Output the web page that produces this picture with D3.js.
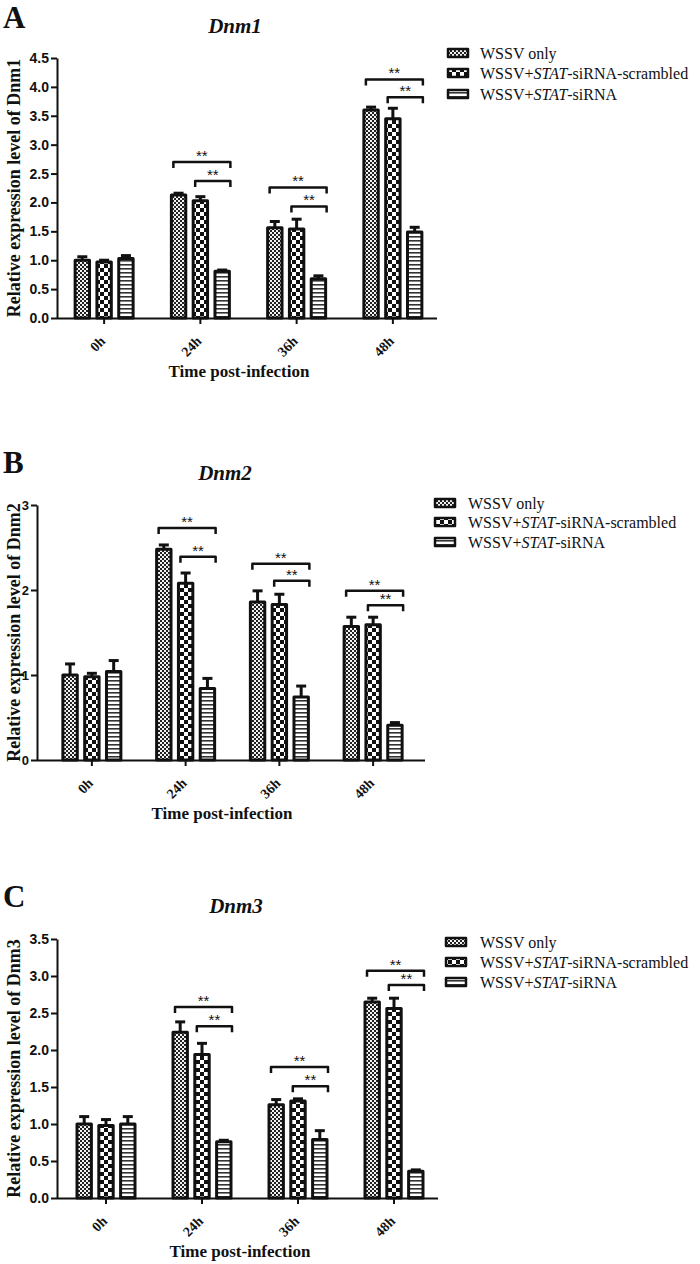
<!DOCTYPE html>
<html><head><meta charset="utf-8">
<script src="https://cdn.jsdelivr.net/npm/d3@7"></script>
<style>body{margin:0;background:#fff} svg{display:block}</style>
</head><body><svg id="c" width="700" height="1264"></svg>
<script>
// ---------- data ----------
const categories = ["0h", "24h", "36h", "48h"];
const seriesNames = ["WSSV only", "WSSV+STAT-siRNA-scrambled", "WSSV+STAT-siRNA"];

// Dnm1 (rows = time points, columns = series)
const dnm1Means = [[1.00, 0.97, 1.03], [2.13, 2.03, 0.81], [1.56, 1.54, 0.68], [3.60, 3.45, 1.49]];
const dnm1Errs  = [[0.06, 0.03, 0.05], [0.03, 0.07, 0.02], [0.11, 0.17, 0.05], [0.05, 0.18, 0.08]];
const dnm1BracketHigh = [null, 2.70, 2.26, 4.13];
const dnm1BracketLow  = [null, 2.37, 1.93, 3.82];
const dnm1Ticks = [0, 0.5, 1, 1.5, 2, 2.5, 3, 3.5, 4, 4.5];

// Dnm2
const dnm2Means = [[1.00, 0.98, 1.04], [2.48, 2.08, 0.84], [1.86, 1.83, 0.74], [1.57, 1.59, 0.41]];
const dnm2Errs  = [[0.13, 0.04, 0.13], [0.05, 0.12, 0.12], [0.13, 0.12, 0.13], [0.11, 0.09, 0.03]];
const dnm2BracketHigh = [null, 2.73, 2.31, 1.99];
const dnm2BracketLow  = [null, 2.39, 2.11, 1.82];
const dnm2Ticks = [0, 1, 2, 3];

// Dnm3
const dnm3Means = [[1.00, 0.98, 1.00], [2.24, 1.94, 0.76], [1.26, 1.31, 0.79], [2.65, 2.56, 0.36]];
const dnm3Errs  = [[0.10, 0.08, 0.10], [0.14, 0.15, 0.02], [0.07, 0.03, 0.12], [0.05, 0.14, 0.02]];
const dnm3BracketHigh = [null, 2.58, 1.77, 3.07];
const dnm3BracketLow  = [null, 2.32, 1.51, 2.88];
const dnm3Ticks = [0, 0.5, 1, 1.5, 2, 2.5, 3, 3.5];

const sigLabel = "**";
const xTitle = "Time post-infection";

// ---------- layout ----------
const SERIF = '"Liberation Serif", "DejaVu Serif", serif';
const SANS = '"Liberation Sans", Arial, sans-serif';

const panels = [
  {letter: "A", gene: "Dnm1", means: dnm1Means, errs: dnm1Errs, high: dnm1BracketHigh, low: dnm1BracketLow,
   ticks: dnm1Ticks, yMax: 4.5, fmt: ".1f", tickFont: 14,
   left: 57, right: 437, top: 58, bottom: 318, band: [56, 441],
   letterY: 28, titleX: 235, titleY: 33, xTitleX: 239, yTitleX: 20,
   legX: 448, legTextX: 480, legY: [53, 73, 94]},
  {letter: "B", gene: "Dnm2", means: dnm2Means, errs: dnm2Errs, high: dnm2BracketHigh, low: dnm2BracketLow,
   ticks: dnm2Ticks, yMax: 3, fmt: "d", tickFont: 13,
   left: 37, right: 425, top: 505, bottom: 760, band: [45, 420],
   letterY: 473, titleX: 225, titleY: 480, xTitleX: 222, yTitleX: 20,
   legX: 435, legTextX: 468, legY: [503, 522, 542]},
  {letter: "C", gene: "Dnm3", means: dnm3Means, errs: dnm3Errs, high: dnm3BracketHigh, low: dnm3BracketLow,
   ticks: dnm3Ticks, yMax: 3.5, fmt: ".1f", tickFont: 14,
   left: 57, right: 438, top: 939, bottom: 1198, band: [58, 442],
   letterY: 907, titleX: 236, titleY: 913, xTitleX: 240, yTitleX: 20,
   legX: 446, legTextX: 480, legY: [942, 962, 982]}
];

const svg = d3.select("#c");
const defs = svg.append("defs");

// patterns
function makePattern(id, w, h, rects, bg) {
  const p = defs.append("pattern").attr("id", id).attr("patternUnits", "userSpaceOnUse")
    .attr("width", w).attr("height", h);
  p.append("rect").attr("width", w).attr("height", h).attr("fill", bg);
  rects.forEach(r => p.append("rect").attr("x", r[0]).attr("y", r[1]).attr("width", r[2]).attr("height", r[3]).attr("fill", r[4]));
}
makePattern("p0", 4, 4, [[0, 0, 2, 2, "#222"], [2, 2, 2, 2, "#222"]], "#f2f2f2");
makePattern("p1", 8, 8, [[0, 0, 4, 4, "#111"], [4, 4, 4, 4, "#111"]], "#fff");
makePattern("p2", 4, 4, [[0, 0, 4, 1.6, "#333"]], "#fff");
const fills = ["url(#p0)", "url(#p1)", "url(#p2)"];

function drawPanel(p) {
  const g = svg.append("g");
  const y = d3.scaleLinear().domain([0, p.yMax]).range([p.bottom, p.top]);
  const x0 = d3.scaleBand().domain(categories).range(p.band);
  const x1 = d3.scaleBand().domain(d3.range(seriesNames.length)).range([-29, 29]).paddingInner(0.34);
  const bw = x1.bandwidth();
  const cx = c => x0(c) + x0.bandwidth() / 2;

  const rows = [];
  categories.forEach((c, ci) => p.means[ci].forEach((m, si) => rows.push({c, ci, si, m, e: p.errs[ci][si]})));

  // error bars (behind bars)
  const eb = g.append("g").attr("stroke", "#111").attr("stroke-width", 3);
  rows.forEach(d => {
    const xm = cx(d.c) + x1(d.si) + bw / 2;
    eb.append("line").attr("x1", xm).attr("x2", xm).attr("y1", y(d.m)).attr("y2", y(d.m + d.e));
    eb.append("line").attr("x1", xm - 5).attr("x2", xm + 5).attr("y1", y(d.m + d.e)).attr("y2", y(d.m + d.e));
  });

  // bars
  g.append("g").selectAll("rect").data(rows).join("rect")
    .attr("x", d => cx(d.c) + x1(d.si))
    .attr("y", d => y(d.m))
    .attr("width", bw)
    .attr("height", d => y(0) - y(d.m))
    .attr("fill", d => fills[d.si])
    .attr("stroke", "#111").attr("stroke-width", 3).attr("stroke-linejoin", "round");

  // y axis
  const ya = g.append("g").attr("transform", `translate(${p.left},0)`)
    .call(d3.axisLeft(y).tickValues(p.ticks).tickFormat(d3.format(p.fmt)).tickSize(6).tickSizeOuter(0).tickPadding(2));
  ya.select(".domain").attr("stroke", "#111").attr("stroke-width", 2);
  ya.selectAll(".tick line").attr("stroke", "#111").attr("stroke-width", 2);
  ya.selectAll(".tick text").attr("font-family", SANS).attr("font-weight", "bold")
    .attr("font-size", p.tickFont).attr("fill", "#111");

  // x axis
  const xa = g.append("g").attr("transform", `translate(0,${p.bottom})`)
    .call(d3.axisBottom(x0).tickSize(6).tickSizeOuter(0));
  xa.select(".domain").attr("d", `M${p.left},0.5H${p.right}`).attr("stroke", "#111").attr("stroke-width", 2);
  xa.selectAll(".tick line").attr("stroke", "#111").attr("stroke-width", 2);
  xa.selectAll(".tick text").attr("y", 0).attr("dy", 0).attr("text-anchor", "end")
    .attr("transform", "translate(2,24) rotate(-45)")
    .attr("font-family", SERIF).attr("font-weight", "bold").attr("font-size", 14).attr("fill", "#111");

  // significance brackets
  const br = g.append("g");
  categories.forEach((c, ci) => {
    if (p.high[ci] == null) return;
    [[0, 2, p.high[ci]], [1, 2, p.low[ci]]].forEach(([a, b, lv]) => {
      const xa1 = cx(c) + x1(a) + 2;
      const xb1 = cx(c) + x1(b) + bw + 1;
      const yl = y(lv);
      br.append("path").attr("d", `M${xa1},${yl + 6}V${yl}H${xb1}V${yl + 6}`)
        .attr("fill", "none").attr("stroke", "#111").attr("stroke-width", 2.5).attr("stroke-linejoin", "round");
      br.append("text").attr("x", (xa1 + xb1) / 2).attr("y", yl - 1).attr("text-anchor", "middle")
        .attr("font-family", SANS).attr("font-size", 15).attr("fill", "#111").text(sigLabel);
    });
  });

  // panel letter
  g.append("text").attr("x", 3).attr("y", p.letterY).attr("font-family", SERIF).attr("font-weight", "bold")
    .attr("font-size", 31).attr("fill", "#111").text(p.letter);
  // title
  g.append("text").attr("x", p.titleX).attr("y", p.titleY).attr("text-anchor", "middle")
    .attr("font-family", SERIF).attr("font-weight", "bold").attr("font-style", "italic")
    .attr("font-size", 21).attr("fill", "#111").text(p.gene);
  // x title
  g.append("text").attr("x", p.xTitleX).attr("y", p.bottom + 59).attr("text-anchor", "middle")
    .attr("font-family", SERIF).attr("font-weight", "bold").attr("font-size", 17).attr("fill", "#111").text(xTitle);
  // y title
  g.append("text").attr("transform", `translate(${p.yTitleX},${(p.top + p.bottom) / 2}) rotate(-90)`)
    .attr("text-anchor", "middle").attr("font-family", SERIF).attr("font-weight", "bold")
    .attr("font-size", 18).attr("fill", "#111").text("Relative expression level of " + p.gene);

  // legend
  const lg = g.append("g");
  seriesNames.forEach((name, si) => {
    const ly = p.legY[si];
    lg.append("rect").attr("x", p.legX).attr("y", ly - 4).attr("width", 20).attr("height", 8)
      .attr("fill", fills[si]).attr("stroke", "#111").attr("stroke-width", 2.5).attr("stroke-linejoin", "round");
    const t = lg.append("text").attr("x", p.legTextX).attr("y", ly + 5.5)
      .attr("font-family", SERIF).attr("font-size", 16).attr("fill", "#111");
    name.split(/(STAT)/).filter(s => s.length).forEach(part => {
      t.append("tspan").attr("font-style", part === "STAT" ? "italic" : "normal").text(part);
    });
  });
}

panels.forEach(drawPanel);
</script>
</body></html>
